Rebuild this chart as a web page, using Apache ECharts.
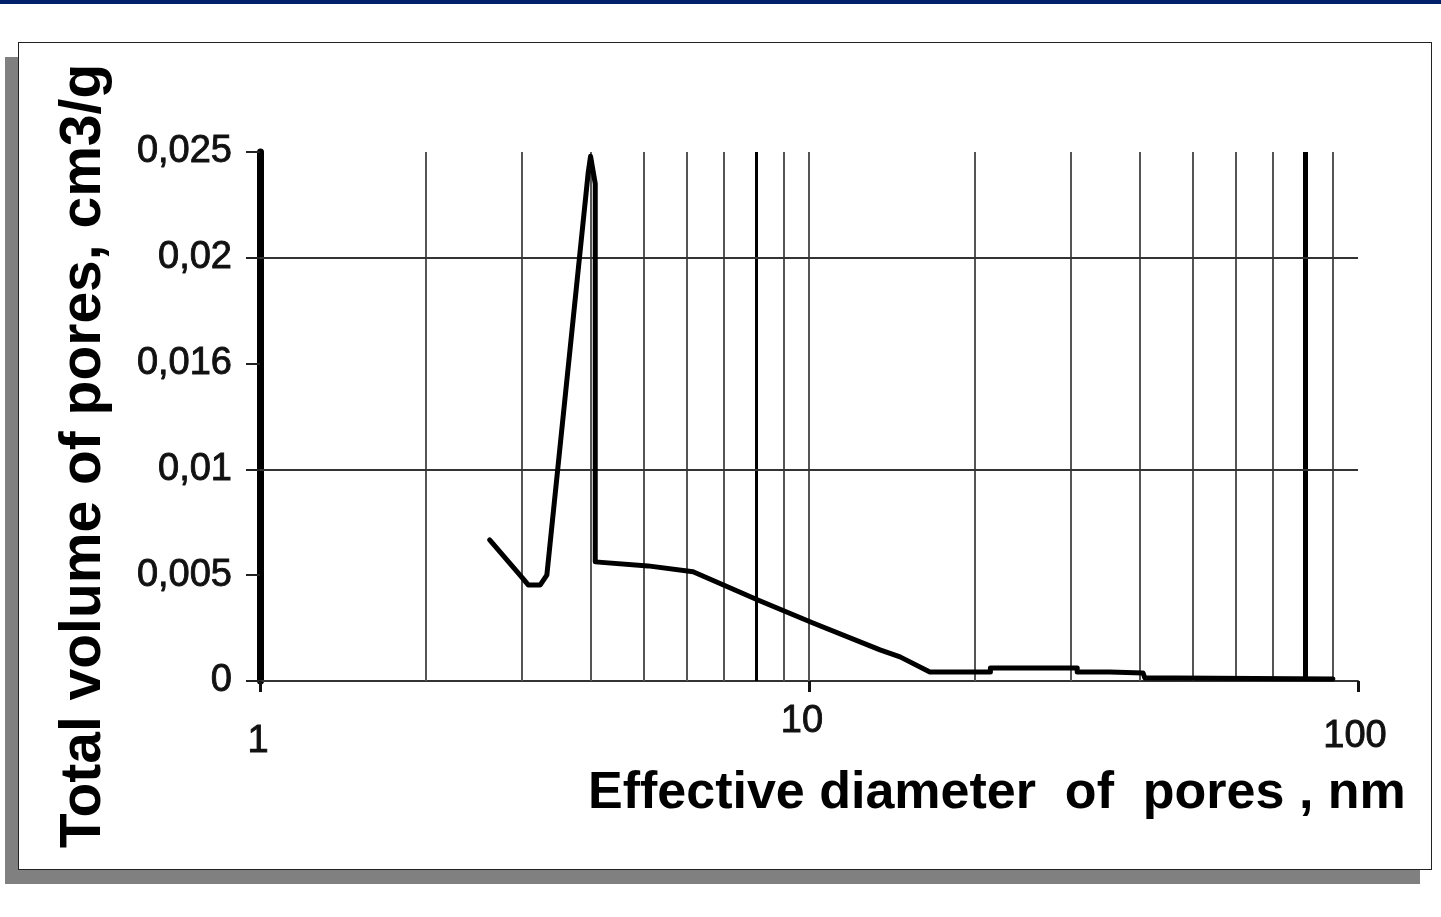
<!DOCTYPE html>
<html>
<head>
<meta charset="utf-8">
<script src="https://cdn.jsdelivr.net/npm/echarts@6/dist/echarts.min.js"></script>
<style>
html,body{margin:0;padding:0;background:#fff;width:1441px;height:917px;overflow:hidden;}
#topbar{position:absolute;left:0;top:0;width:1441px;height:4px;background:#00206b;}
#shadow{position:absolute;left:5px;top:57px;width:1415px;height:827px;background:#808080;}
#frame{position:absolute;left:18px;top:42px;width:1412px;height:826px;background:#fff;border:1.5px solid #222;}
#chart{position:absolute;left:0;top:0;width:1441px;height:917px;}
</style>
</head>
<body>
<div id="topbar"></div>
<div id="shadow"></div>
<div id="frame"></div>
<div id="chart"></div>
<script>
// Effective pore diameter, nm (log axis)
const diameters = [2.62, 3.00, 3.08, 3.24, 3.33, 3.96, 4.00, 4.08, 4.08, 5.09, 6.15, 8.07, 10.17, 13.47, 14.65, 16.6, 21.4, 21.4, 30.8, 30.8, 35.3, 40.6, 40.9, 46.8, 90.0];
// Total pore volume, cm3/g
const volumes   = [0.00667, 0.0049, 0.00454, 0.00454, 0.0050, 0.0240, 0.0248, 0.0235, 0.00563, 0.00544, 0.00516, 0.00383, 0.00274, 0.00147, 0.00114, 0.00043, 0.00043, 0.00061, 0.00061, 0.00043, 0.00043, 0.00038, 0.00014, 0.00014, 0.0001];

const xTickLabels = ['1', '10', '100'];
const yTickLabels = ['0', '0,005', '0,01', '0,016', '0,02', '0,025'];
const xGridValues = [2, 3, 4, 5, 6, 7, 8, 9, 10, 20, 30, 40, 50, 60, 70, 80, 90];
const xGridHeavy  = [8, 80];
const yGridValues = [0.005, 0.01, 0.015, 0.02];

const xTitle = 'Effective diameter  of  pores , nm';
const yTitle = 'Total volume of pores, cm3/g';

const FONT = '"Liberation Sans", Arial, sans-serif';
const chart = echarts.init(document.getElementById('chart'), null, {renderer: 'canvas'});

const curve = diameters.map((d, i) => [d, volumes[i]]);
const labelStyle = {fontFamily: FONT, fontSize: 38, color: '#111', textBorderColor: '#111', textBorderWidth: 0.9};

chart.setOption({
  backgroundColor: 'transparent',
  animation: false,
  grid: {left: 260, right: 83, top: 152, bottom: 236, containLabel: false},
  xAxis: {
    type: 'log', logBase: 10, min: 1, max: 100,
    axisLine: {show: true, lineStyle: {color: '#333', width: 2}},
    axisTick: {show: true, inside: false, length: 11, lineStyle: {color: '#111', width: 3}},
    splitLine: {show: false},
    minorTick: {show: false},
    axisLabel: Object.assign({
      show: true, margin: 20,
      formatter: function (v) {
        const i = Math.round(Math.log10(v));
        const t = xTickLabels[i] || '';
        return '{l' + i + '|' + t + '}';
      },
      rich: {
        l0: Object.assign({padding: [22, 4, 0, 0]}, labelStyle),
        l1: Object.assign({padding: [2, 14, 0, 0]}, labelStyle),
        l2: Object.assign({padding: [17, 6, 0, 0]}, labelStyle)
      }
    }, labelStyle)
  },
  yAxis: {
    type: 'value', min: 0, max: 0.025, interval: 0.005,
    axisLine: {show: true, lineStyle: {color: '#000', width: 7}},
    axisTick: {show: true, inside: false, length: 14, lineStyle: {color: '#222', width: 2}},
    splitLine: {show: false},
    axisLabel: Object.assign({
      show: true, margin: 28,
      formatter: function (v) {
        const i = Math.round(v / 0.005);
        return yTickLabels[i] || '';
      }
    }, labelStyle)
  },
  graphic: [
    {
      type: 'text', left: 588, top: 768,
      style: {text: xTitle, fontFamily: FONT, fontSize: 52, fontWeight: 'bold', fill: '#000'}
    },
    {
      type: 'text', x: 84, y: 456, rotation: Math.PI / 2,
      style: {text: yTitle, fontFamily: FONT, fontSize: 57, fontWeight: 'bold', fill: '#000', align: 'center', verticalAlign: 'middle'}
    }
  ],
  series: [
    {
      type: 'line', data: [], z: 1, silent: true,
      markLine: {
        silent: true, symbol: ['none', 'none'], animation: false,
        label: {show: false},
        data: xGridValues.map(v => ({
          xAxis: v,
          lineStyle: xGridHeavy.indexOf(v) >= 0
            ? {color: '#000', width: v > 50 ? 5 : 3, type: 'solid'}
            : {color: '#555', width: 2, type: 'solid'}
        })).concat(yGridValues.map(v => ({
          yAxis: v,
          lineStyle: {color: '#333', width: 2, type: 'solid'}
        })))
      }
    },
    {
      type: 'line', data: curve, z: 5,
      showSymbol: false, symbol: 'none', smooth: false,
      lineStyle: {color: '#000', width: 5, join: 'round', cap: 'round'}
    }
  ]
});
</script>
</body>
</html>
